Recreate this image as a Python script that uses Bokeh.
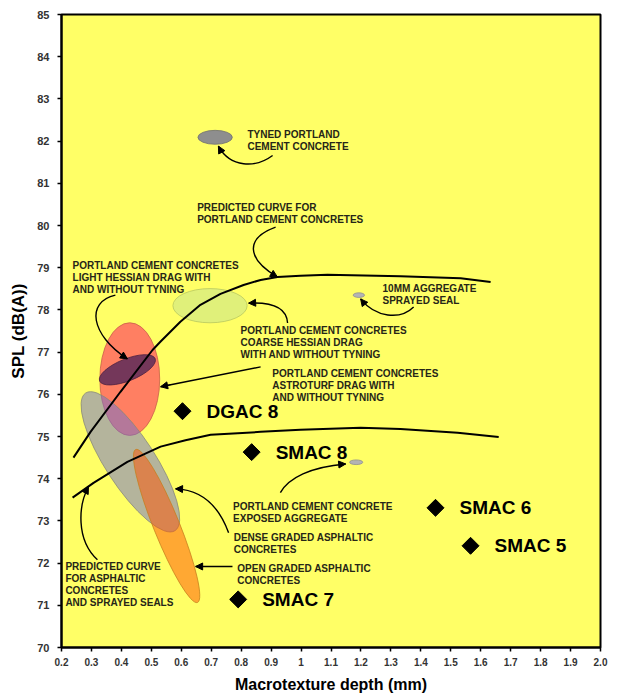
import math
from bokeh.plotting import figure
from bokeh.models import Range1d, FixedTicker, CustomJSTickFormatter, Arrow, NormalHead, ColumnDataSource
from bokeh.core.properties import value
from bokeh.embed import file_html
from bokeh.resources import INLINE

# ---------------- data ----------------
mix_names = ["DGAC 8", "SMAC 8", "SMAC 6", "SMAC 5", "SMAC 7"]
mix_depth = [0.604, 0.835, 1.449, 1.566, 0.790]
mix_spl = [75.60, 74.63, 73.31, 72.41, 71.14]

pcc_curve_depth = [0.240, 0.297, 0.397, 0.504, 0.531, 0.597, 0.664, 0.731, 0.808, 0.865,
                   0.921, 0.998, 1.088, 1.332, 1.533, 1.633]
pcc_curve_spl = [74.50, 75.11, 76.06, 77.05, 77.25, 77.72, 78.12, 78.38, 78.59, 78.71,
                 78.78, 78.81, 78.83, 78.80, 78.75, 78.66]

ac_curve_depth = [0.237, 0.307, 0.420, 0.531, 0.614, 0.698, 0.865, 0.998, 1.199, 1.332, 1.523, 1.660]
ac_curve_spl = [73.55, 73.90, 74.40, 74.76, 74.91, 75.04, 75.11, 75.16, 75.21, 75.18, 75.09, 74.99]

# surface-type regions (centre, extent in depth and SPL, tilt in degrees)
region_names = ["astroturf", "light hessian", "dense graded AC", "open graded AC",
                "coarse hessian", "tyned", "10mm seal", "exposed aggregate"]
region_depth = [0.428, 0.420, 0.430, 0.551, 0.696, 0.713, 1.193, 1.184]
region_spl = [76.36, 76.58, 74.40, 72.88, 78.10, 82.09, 78.35, 74.39]
region_w = [0.200, 0.200, 0.548, 0.551, 0.248, 0.115, 0.038, 0.044]
region_h = [2.67, 0.52, 1.18, 0.615, 0.81, 0.33, 0.11, 0.11]
region_tilt = [0, 22, -57, -68, 0, 0, 0, 0]

# annotation texts and anchor positions
note_text = [
    "TYNED PORTLAND\nCEMENT CONCRETE",
    "PREDICTED CURVE FOR\nPORTLAND CEMENT CONCRETES",
    "PORTLAND CEMENT CONCRETES\nLIGHT  HESSIAN DRAG WITH\nAND WITHOUT TYNING",
    "PORTLAND CEMENT CONCRETES\nCOARSE HESSIAN DRAG\nWITH AND WITHOUT TYNING",
    "PORTLAND CEMENT CONCRETES\nASTROTURF DRAG WITH\nAND WITHOUT TYNING",
    "10MM AGGREGATE\nSPRAYED SEAL",
    "PORTLAND CEMENT CONCRETE\nEXPOSED AGGREGATE",
    "DENSE GRADED ASPHALTIC\nCONCRETES",
    "OPEN GRADED ASPHALTIC\nCONCRETES",
    "PREDICTED CURVE\nFOR ASPHALTIC\nCONCRETES\nAND SPRAYED SEALS",
]
note_x = [0.821, 0.653, 0.237, 0.798, 0.904, 1.272, 0.773, 0.775, 0.787, 0.213]
note_y = [82.29, 80.55, 79.18, 77.64, 76.63, 78.63, 73.48, 72.74, 72.00, 72.06]

# leader arrows: start, two control points, tip
arr_x0 = [0.905, 0.915, 0.380, 0.955, 0.865, 1.376, 0.931, 0.758, 0.771, 0.320]
arr_y0 = [81.66, 79.96, 78.35, 77.69, 76.65, 78.07, 73.67, 72.72, 71.92, 72.08]
arr_cx0 = [0.848, 0.815, 0.280, 0.952, 0.865, 1.332, 0.958, 0.724, 0.771, 0.247]
arr_cy0 = [81.36, 79.70, 78.19, 78.04, 76.65, 77.76, 74.02, 73.38, 71.92, 72.56]
arr_cx1 = [0.764, 0.815, 0.297, 0.905, 0.531, 1.249, 1.032, 0.664, 0.648, 0.257]
arr_cy1 = [81.36, 79.23, 77.41, 78.19, 76.18, 77.81, 74.28, 73.74, 71.92, 73.38]
arr_x1 = [0.724, 0.921, 0.420, 0.825, 0.531, 1.199, 1.149, 0.581, 0.648, 0.290]
arr_y1 = [81.88, 78.78, 76.84, 78.16, 76.18, 78.26, 74.35, 73.76, 71.92, 73.81]

x_ticks = [0.2, 0.3, 0.4, 0.5, 0.6, 0.7, 0.8, 0.9, 1.0, 1.1, 1.2, 1.3, 1.4, 1.5, 1.6, 1.7, 1.8, 1.9, 2.0]
y_ticks = list(range(70, 86))

# ---------------- styles ----------------
region_fill = ["#FF7F62", "#6D345A", "#7171CC", "#FF5100", "#E0F07A", "#8E8E8E", "#B4B4B4", "#B4B4B4"]
region_alpha = [1.0, 0.95, 0.53, 0.5, 1.0, 1.0, 1.0, 1.0]
region_line = ["#C8604A", "#4A2040", "#8A8A78", "#C88020", "#B8C860", "#707070", "#909090", "#909090"]

FONT = "Liberation Sans"

p = figure(width=610, height=695, x_range=Range1d(0.2, 2.0), y_range=Range1d(70, 85),
           output_backend="svg", toolbar_location=None,
           min_border_left=61, min_border_right=10, min_border_top=14, min_border_bottom=47,
           background_fill_color="#FFFF66", border_fill_color="white",
           outline_line_color="black", outline_line_width=2)
p.grid.visible = False

# regions
src = ColumnDataSource(dict(x=region_depth, y=region_spl, w=region_w, h=region_h,
                            a=[math.radians(t) for t in region_tilt],
                            fill=region_fill, alpha=region_alpha, line=region_line))
p.ellipse(x="x", y="y", width="w", height="h", angle="a", source=src,
          fill_color="fill", fill_alpha="alpha", line_color="line", line_width=0.8)

# predicted curves
p.line(pcc_curve_depth, pcc_curve_spl, line_color="black", line_width=2)
p.line(ac_curve_depth, ac_curve_spl, line_color="black", line_width=2)

# leader curves
p.bezier(x0=arr_x0, y0=arr_y0, x1=arr_x1, y1=arr_y1,
         cx0=arr_cx0, cy0=arr_cy0, cx1=arr_cx1, cy1=arr_cy1,
         line_color="black", line_width=1.4)
hx0, hy0 = [], []
for i in range(len(arr_x1)):
    dx = arr_x1[i] - arr_cx1[i]
    dy = arr_y1[i] - arr_cy1[i]
    if abs(dx) < 1e-9 and abs(dy) < 1e-9:
        dx = arr_x1[i] - arr_x0[i]
        dy = arr_y1[i] - arr_y0[i]
    hx0.append(arr_x1[i] - 0.1 * dx)
    hy0.append(arr_y1[i] - 0.1 * dy)
head_src = ColumnDataSource(dict(xs=hx0, ys=hy0, xe=arr_x1, ye=arr_y1))
p.add_layout(Arrow(x_start="xs", y_start="ys", x_end="xe", y_end="ye", source=head_src,
                   line_color="black", line_width=1,
                   end=NormalHead(size=7, fill_color="black", line_color="black", line_width=1)))

# notes
p.text(x=note_x, y=note_y, text=note_text, text_font=value(FONT), text_font_style="bold",
       text_font_size="10px", text_color="#262617", text_baseline="top", text_align="left",
       text_line_height=1.1)

# mixes
p.scatter(mix_depth, mix_spl, marker="square", angle=math.pi / 4, size=12,
          fill_color="black", line_color="black")
p.text(x=mix_depth, y=mix_spl, text=mix_names, x_offset=24, text_font=value(FONT),
       text_font_style="bold", text_font_size="19px", text_color="black",
       text_baseline="middle", text_align="left")

# axes
p.xaxis.ticker = FixedTicker(ticks=x_ticks)
p.xaxis.formatter = CustomJSTickFormatter(code="return Math.abs(tick - 1) < 1e-9 ? '1' : tick.toFixed(1);")
p.yaxis.ticker = FixedTicker(ticks=y_ticks)
p.xaxis.axis_label = "Macrotexture depth (mm)"
p.yaxis.axis_label = "SPL (dB(A))"
for ax in (p.xaxis, p.yaxis):
    ax.axis_line_color = "black"
    ax.axis_line_width = 2
    ax.major_tick_line_color = "black"
    ax.major_tick_line_width = 1.5
    ax.major_tick_in = 0
    ax.major_tick_out = 4
    ax.minor_tick_line_color = None
    ax.major_label_text_font = FONT
    ax.major_label_text_font_style = "bold"
    ax.major_label_text_color = "#333333"
    ax.axis_label_text_font = FONT
    ax.axis_label_text_font_style = "bold"
    ax.axis_label_text_color = "black"
p.xaxis.major_label_text_font_size = "10px"
p.xaxis.major_label_standoff = 6
p.xaxis.axis_label_text_font_size = "16px"
p.xaxis.axis_label_standoff = 7
p.yaxis.major_label_text_font_size = "11px"
p.yaxis.major_label_standoff = 8
p.yaxis.axis_label_text_font_size = "17px"
p.yaxis.axis_label_standoff = 6

open("out.html", "w").write(file_html(p, INLINE))
